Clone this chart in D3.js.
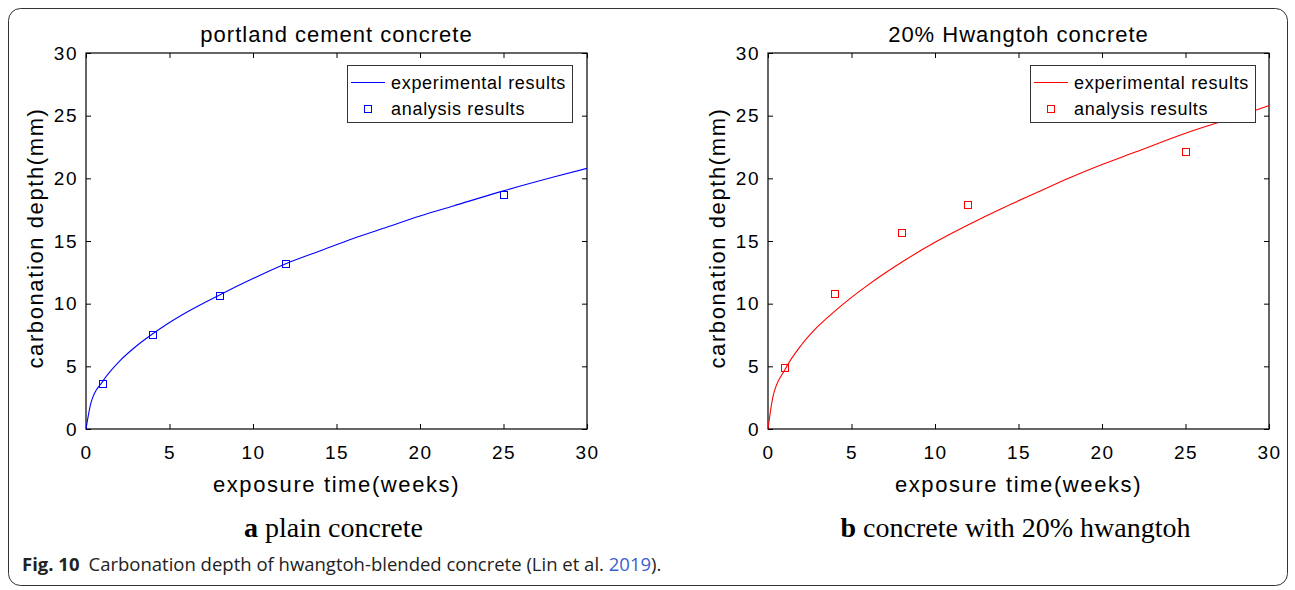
<!DOCTYPE html>
<html>
<head>
<meta charset="utf-8">
<script src="https://cdn.jsdelivr.net/npm/d3@7"></script>
<style>
  body { margin: 0; background: #fff; }
  svg { display: block; }
</style>
</head>
<body>
<div id="chart"></div>
<script>
// exposure time (weeks) sampled along the fitted curves
const curveWeeks = [0, 0.3, 1, 2, 3, 4, 5, 6, 8, 10, 12, 14, 16, 18, 20, 22, 25, 28, 30];
const plainCurve = [0, 2.1, 3.8, 5.4, 6.6, 7.6, 8.5, 9.3, 10.7, 12.0, 13.2, 14.2, 15.2, 16.1, 17.0, 17.8, 19.0, 20.1, 20.8];
const hwangtohCurve = [0, 2.6, 4.7, 6.7, 8.2, 9.4, 10.5, 11.5, 13.3, 14.9, 16.3, 17.6, 18.8, 20.0, 21.1, 22.1, 23.6, 24.9, 25.8];

// analysis results (markers)
const markerWeeks = [1, 4, 8, 12, 25];
const plainMarkers = [3.6, 7.5, 10.6, 13.2, 18.7];
const hwangtohMarkers = [4.9, 10.8, 15.6, 17.9, 22.1];

const xTicks = [0, 5, 10, 15, 20, 25, 30];
const yTicks = [0, 5, 10, 15, 20, 25, 30];

const panels = [
  { left: 86, title: 'portland cement concrete', curve: plainCurve, markers: plainMarkers,
    color: '#0000ff', letter: 'a', caption: ' plain concrete', legendX: 347 },
  { left: 768, title: '20% Hwangtoh concrete', curve: hwangtohCurve, markers: hwangtohMarkers,
    color: '#ff0000', letter: 'b', caption: ' concrete with 20% hwangtoh', legendX: 1030 }
];

const width = 1295, height = 590;
const plotW = 501, plotH = 376, plotTop = 53;
const axisFont = '"Liberation Sans", Arial, sans-serif';

const svg = d3.select('#chart').append('svg')
  .attr('width', width)
  .attr('height', height);

// outer frame
svg.append('rect')
  .attr('x', 8.5).attr('y', 8.5)
  .attr('width', 1279).attr('height', 577)
  .attr('rx', 12)
  .attr('fill', 'none')
  .attr('stroke', '#333')
  .attr('stroke-width', 1);

panels.forEach(p => {
  const x = d3.scaleLinear().domain([0, 30]).range([0, plotW]);
  const y = d3.scaleLinear().domain([0, 30]).range([plotH, 0]);

  const g = svg.append('g').attr('transform', `translate(${p.left},${plotTop})`);

  // clip so the curve stays inside the box
  const clipId = 'clip-' + p.letter;
  g.append('clipPath').attr('id', clipId)
    .append('rect').attr('width', plotW).attr('height', plotH);

  // axes with inward ticks, mirrored on top and right
  const styleAxis = sel => {
    sel.select('.domain').remove();
    sel.selectAll('line').attr('stroke', '#000');
    sel.selectAll('text')
      .style('font-family', axisFont)
      .style('font-size', '19px')
      .style('letter-spacing', '1.5px')
      .attr('fill', '#000');
  };

  g.append('g')
    .attr('transform', `translate(0,${plotH})`)
    .call(d3.axisBottom(x).tickValues(xTicks).tickSizeInner(-5).tickSizeOuter(0).tickPadding(17))
    .call(styleAxis);

  g.append('g')
    .call(d3.axisTop(x).tickValues(xTicks).tickSizeInner(-5).tickSizeOuter(0).tickFormat(''))
    .call(styleAxis);

  g.append('g')
    .call(d3.axisLeft(y).tickValues(yTicks).tickSizeInner(-5).tickSizeOuter(0).tickPadding(8))
    .call(styleAxis);

  g.append('g')
    .attr('transform', `translate(${plotW},0)`)
    .call(d3.axisRight(y).tickValues(yTicks).tickSizeInner(-5).tickSizeOuter(0).tickFormat(''))
    .call(styleAxis);

  g.append('rect')
    .attr('width', plotW).attr('height', plotH)
    .attr('fill', 'none').attr('stroke', '#000').attr('stroke-width', 1.2);

  // curve
  const line = d3.line()
    .x((d, i) => x(curveWeeks[i]))
    .y(d => y(d))
    .curve(d3.curveMonotoneX);

  g.append('path')
    .datum(p.curve)
    .attr('clip-path', `url(#${clipId})`)
    .attr('d', line)
    .attr('fill', 'none')
    .attr('stroke', p.color)
    .attr('stroke-width', 1.1);

  // markers
  g.selectAll('.marker')
    .data(p.markers)
    .enter()
    .append('rect')
    .attr('class', 'marker')
    .attr('x', (d, i) => Math.round(x(markerWeeks[i])) - 3.5)
    .attr('y', d => Math.round(y(d)) - 3.5)
    .attr('width', 7).attr('height', 7)
    .attr('fill', 'none')
    .attr('stroke', p.color)
    .attr('stroke-width', 1);

  // title
  g.append('text')
    .attr('x', plotW / 2).attr('y', -11)
    .attr('text-anchor', 'middle')
    .style('font-family', axisFont)
    .style('font-size', '22px')
    .style('letter-spacing', '1px')
    .text(p.title);

  // axis labels
  g.append('text')
    .attr('x', plotW / 2).attr('y', plotH + 63)
    .attr('text-anchor', 'middle')
    .style('font-family', axisFont)
    .style('font-size', '22px')
    .style('letter-spacing', '1.6px')
    .text('exposure time(weeks)');

  g.append('text')
    .attr('transform', `translate(-43,${plotH / 2 - 3}) rotate(-90)`)
    .attr('text-anchor', 'middle')
    .style('font-family', axisFont)
    .style('font-size', '22px')
    .style('letter-spacing', '1.6px')
    .text('carbonation depth(mm)');

  // legend
  const lg = svg.append('g').attr('transform', `translate(${p.legendX},65)`);
  lg.append('rect')
    .attr('x', 0.5).attr('y', 0.5)
    .attr('width', 225).attr('height', 57)
    .attr('fill', '#fff')
    .attr('stroke', '#333').attr('stroke-width', 1);
  lg.append('line')
    .attr('x1', 4).attr('x2', 38).attr('y1', 17.5).attr('y2', 17.5)
    .attr('stroke', p.color).attr('stroke-width', 1);
  lg.append('rect')
    .attr('x', 17.5).attr('y', 40.5).attr('width', 7).attr('height', 7)
    .attr('fill', 'none').attr('stroke', p.color).attr('stroke-width', 1);
  lg.append('text')
    .attr('x', 44).attr('y', 24)
    .style('font-family', axisFont).style('font-size', '18px')
    .style('letter-spacing', '0.7px')
    .text('experimental results');
  lg.append('text')
    .attr('x', 44).attr('y', 50)
    .style('font-family', axisFont).style('font-size', '18px')
    .style('letter-spacing', '0.7px')
    .text('analysis results');

  // sub caption
  const cap = svg.append('text')
    .attr('x', p.left + plotW / 2 - 3).attr('y', 537)
    .attr('text-anchor', 'middle')
    .style('font-family', '"Liberation Serif", "Times New Roman", serif')
    .style('font-size', '28px');
  cap.append('tspan').style('font-weight', 'bold').text(p.letter);
  cap.append('tspan').text(p.caption);
});

// figure caption
const fig = svg.append('text')
  .attr('x', 22).attr('y', 571)
  .style('font-family', '"Open Sans", "Noto Sans", sans-serif')
  .style('font-size', '18.5px')
  .attr('fill', '#222');
fig.append('tspan').style('font-weight', 'bold').text('Fig. 10');
fig.append('tspan').attr('dx', 9).text('Carbonation depth of hwangtoh-blended concrete (Lin et al. ');
fig.append('tspan').attr('fill', '#3a5fcd').text('2019');
fig.append('tspan').text(').');
</script>
</body>
</html>
